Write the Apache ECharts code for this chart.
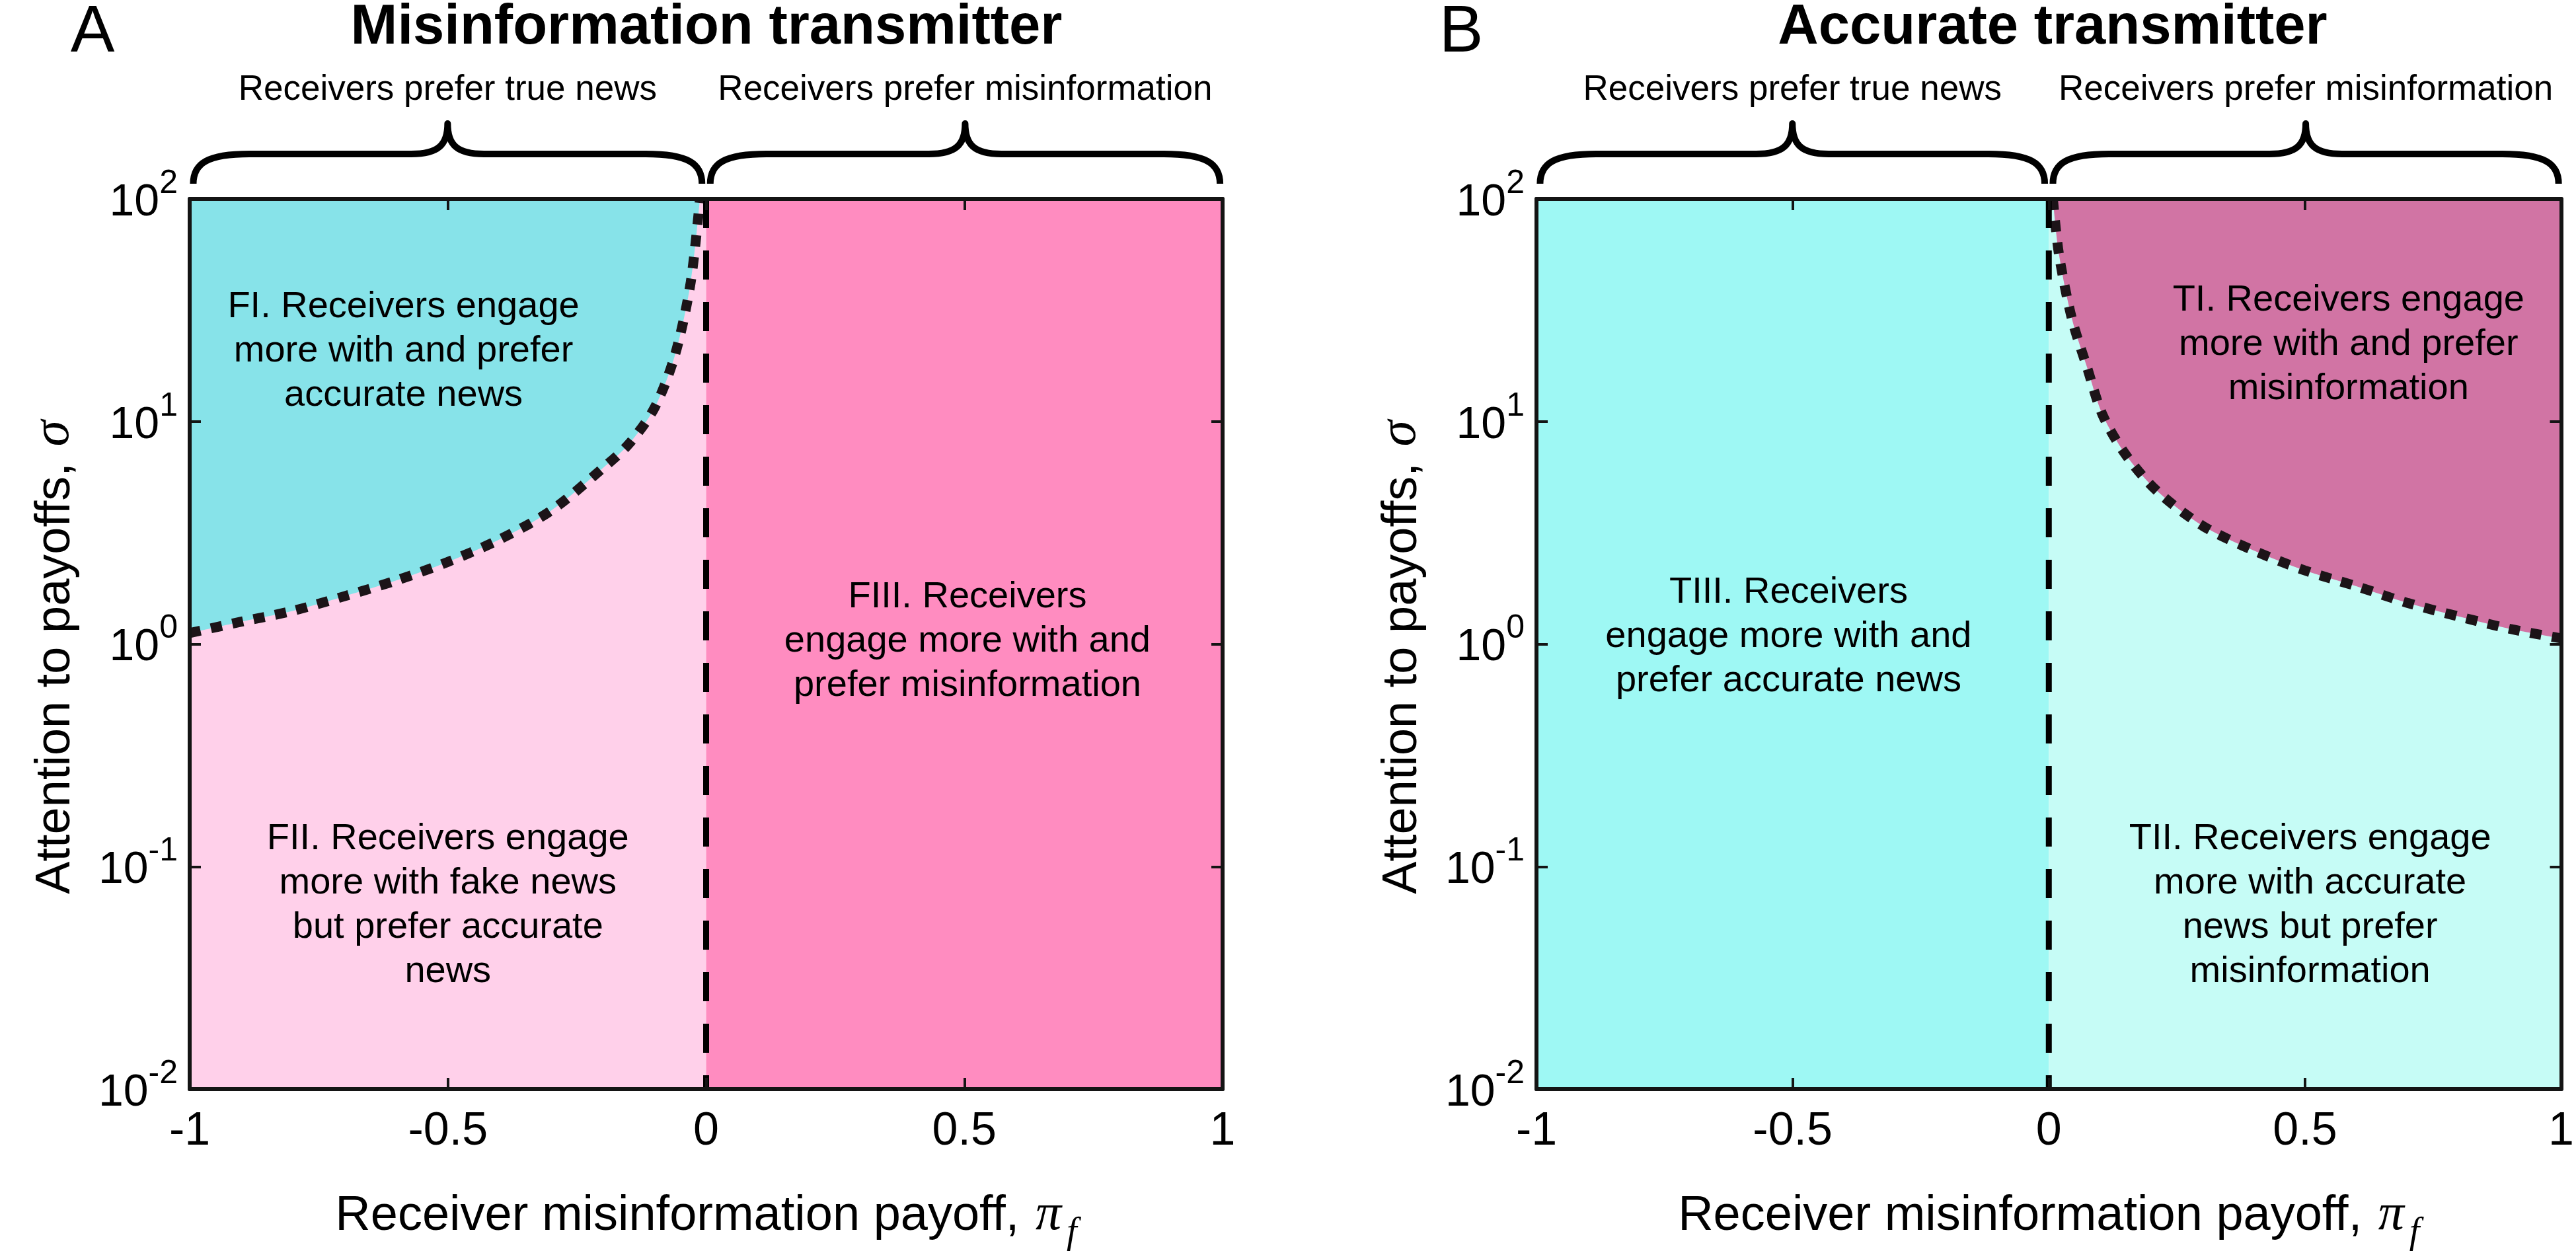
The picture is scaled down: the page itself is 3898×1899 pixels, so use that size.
<!DOCTYPE html>
<html>
<head>
<meta charset="utf-8">
<script src="https://cdn.jsdelivr.net/npm/echarts@6/dist/echarts.min.js"></script>
<style>html,body{margin:0;padding:0;background:#fff}#c{width:3898px;height:1899px}</style>
</head>
<body>
<div id="c"></div>
<script>
// ---------- data ----------
const xTickValues = [-1, -0.5, 0, 0.5, 1];
const xTickLabels = ['-1', '-0.5', '0', '0.5', '1'];
const yTickValues = [0.01, 0.1, 1, 10, 100];
const yTickExponents = ['-2', '-1', '0', '1', '2'];

const panelTitles = ['Misinformation transmitter', 'Accurate transmitter'];
const panelLetters = ['A', 'B'];
const braceLabels = ['Receivers prefer true news', 'Receivers prefer misinformation'];
const xAxisTitle = 'Receiver misinformation payoff, ';
const yAxisTitle = 'Attention to payoffs, ';

// boundary curve, panel A (misinformation transmitter)
const curveA_pi    = [-1.0, -0.9, -0.8, -0.7, -0.6, -0.5, -0.4, -0.3, -0.2, -0.15, -0.1, -0.06, -0.03, -0.012];
const curveA_sigma = [1.12, 1.26, 1.41, 1.64, 1.93, 2.34, 2.95, 3.98, 6.17, 7.9, 11.5, 20, 42, 100];
// boundary curve, panel B (accurate transmitter)
const curveB_pi    = [0.008, 0.02, 0.045, 0.075, 0.105, 0.15, 0.21, 0.3, 0.4, 0.5, 0.6, 0.7, 0.8, 0.9, 1.0];
const curveB_sigma = [100, 56, 29, 17.4, 10.7, 7.1, 4.9, 3.4, 2.63, 2.14, 1.82, 1.53, 1.33, 1.17, 1.06];

// region labels
const regionTextsA = [
  'FI. Receivers engage\nmore with and prefer\naccurate news',
  'FII. Receivers engage\nmore with fake news\nbut prefer accurate\nnews',
  'FIII. Receivers\nengage more with and\nprefer misinformation'
];
const regionPiA = [-0.586, -0.50, 0.506];
const regionSigmaA = [20.6, 0.0668, 1.03];
const regionTextsB = [
  'TI. Receivers engage\nmore with and prefer\nmisinformation',
  'TII. Receivers engage\nmore with accurate\nnews but prefer\nmisinformation',
  'TIII. Receivers\nengage more with and\nprefer accurate news'
];
const regionPiB = [0.585, 0.51, -0.508];
const regionSigmaB = [22.2, 0.067, 1.08];

const xMin = -1, xMax = 1, yMin = 0.01, yMax = 100;

// ---------- style ----------
const FONT = '"Liberation Sans", Arial, Helvetica, sans-serif';
const SERIF = '"Liberation Serif", "DejaVu Serif", serif';
const AX = '#141414';
const colA = { upperLeft: '#87E3E9', lowerLeft: '#FFD0EA', right: '#FF8CC0' };
const colB = { left: '#9EF8F4', upperRight: '#D174A4', lowerRight: '#C6FCF6' };

const grids = [
  { left: 287, top: 301, width: 1563, height: 1352 },
  { left: 2325, top: 301, width: 1562, height: 1352 }
];

function xAxes(g) {
  const common = {
    gridIndex: g, type: 'value', min: xMin, max: xMax, interval: 0.5, z: 10,
    splitLine: { show: false },
    axisLine: { show: true, onZero: false, lineStyle: { color: AX, width: 6 } },
    axisTick: { show: true, inside: true, length: 17, lineStyle: { color: AX, width: 4 } }
  };
  return [
    Object.assign({}, common, {
      position: 'bottom',
      axisLabel: {
        show: true, margin: 30, fontSize: 70, color: '#000', fontFamily: FONT,
        showMinLabel: true, showMaxLabel: true,
        formatter: v => { const i = xTickValues.findIndex(t => Math.abs(t - v) < 1e-9); return i >= 0 ? xTickLabels[i] : ''; }
      },
      name: '{t|' + xAxisTitle + '}{p|π}{s|f}',
      nameLocation: 'middle', nameGap: 152,
      nameTextStyle: {
        rich: {
          t: { fontSize: 74, fontFamily: FONT, color: '#000', padding: [0, 0, 16, 0], verticalAlign: 'bottom' },
          p: { fontSize: 78, fontFamily: SERIF, fontStyle: 'italic', color: '#000', padding: [0, 8, 16, 4], verticalAlign: 'bottom' },
          s: { fontSize: 56, fontFamily: SERIF, fontStyle: 'italic', color: '#000', verticalAlign: 'bottom' }
        }
      }
    }),
    Object.assign({}, common, { position: 'top', axisLabel: { show: false } })
  ];
}

function yAxes(g) {
  const common = {
    gridIndex: g, type: 'log', logBase: 10, min: yMin, max: yMax, z: 10,
    splitLine: { show: false }, minorTick: { show: false },
    axisLine: { show: true, onZero: false, lineStyle: { color: AX, width: 6 } },
    axisTick: { show: true, inside: true, length: 17, lineStyle: { color: AX, width: 4 } }
  };
  return [
    Object.assign({}, common, {
      position: 'left',
      axisLabel: {
        show: true, margin: 18, padding: [12, 0, 0, 0],
        showMinLabel: true, showMaxLabel: true,
        formatter: v => {
          const i = yTickValues.findIndex(t => Math.abs(Math.log10(t) - Math.log10(v)) < 1e-6);
          return i >= 0 ? '{b|10}{e|' + yTickExponents[i] + '}' : '';
        },
        rich: {
          b: { fontSize: 68, lineHeight: 68, fontFamily: FONT, color: '#000', verticalAlign: 'bottom' },
          e: { fontSize: 50, lineHeight: 50, fontFamily: FONT, color: '#000', padding: [0, 0, 38, 0], verticalAlign: 'bottom' }
        }
      },
      name: '{t|' + yAxisTitle + '}{s|σ}',
      nameLocation: 'middle', nameRotate: 90, nameGap: 165,
      nameTextStyle: {
        padding: [0, 40, 0, 0],
        rich: {
          t: { fontSize: 74, fontFamily: FONT, color: '#000', verticalAlign: 'bottom' },
          s: { fontSize: 80, fontFamily: SERIF, fontStyle: 'italic', color: '#000', verticalAlign: 'bottom', padding: [0, 0, 0, 4] }
        }
      }
    }),
    Object.assign({}, common, { position: 'right', axisLabel: { show: false } })
  ];
}

function fillRect(g, x0, x1, color) {
  return {
    type: 'line', xAxisIndex: 2 * g, yAxisIndex: 2 * g, silent: true, z: 1,
    symbol: 'none', data: [[x0, yMax], [x1, yMax]],
    lineStyle: { width: 0, opacity: 0 },
    areaStyle: { color: color, opacity: 1, origin: 'start' }
  };
}

function curve(g, pis, sigmas, color) {
  return {
    type: 'line', xAxisIndex: 2 * g, yAxisIndex: 2 * g, silent: true, z: 3,
    symbol: 'none', smooth: 0.3,
    data: pis.map((p, i) => [p, sigmas[i]]),
    lineStyle: { color: '#1c1418', width: 15, type: [17, 16], cap: 'butt' },
    areaStyle: { color: color, opacity: 1, origin: 'end' }
  };
}

function divider(g) {
  return {
    type: 'line', xAxisIndex: 2 * g, yAxisIndex: 2 * g, silent: true, z: 4,
    symbol: 'none', data: [[0, yMax], [0, yMin]],
    lineStyle: { color: '#000', width: 9, type: [44, 34], cap: 'butt' }
  };
}

function labels(g, pis, sigmas, texts) {
  return {
    type: 'custom', xAxisIndex: 2 * g, yAxisIndex: 2 * g, silent: true, z: 6, clip: false,
    data: pis.map((p, i) => [p, sigmas[i], i]),
    encode: { x: 0, y: 1 },
    renderItem: (params, api) => {
      const pt = api.coord([api.value(0), api.value(1)]);
      return {
        type: 'text', x: pt[0], y: pt[1],
        style: {
          text: texts[api.value(2)], fill: '#000', font: '56px ' + FONT,
          lineHeight: 67, align: 'center', verticalAlign: 'middle'
        }
      };
    }
  };
}

function braces(g) {
  return {
    type: 'custom', xAxisIndex: 2 * g, yAxisIndex: 2 * g, silent: true, z: 6, clip: false,
    data: [[-0.993, yMax, -0.008, 0], [0.008, yMax, 0.995, 1]],
    encode: { x: [0, 2], y: 1 },
    renderItem: (params, api) => {
      const p0 = api.coord([api.value(0), api.value(1)]);
      const p1 = api.coord([api.value(2), api.value(1)]);
      const idx = api.value(3);
      const top = p0[1];
      const yEnd = top - 23, yBar = top - 68, yTip = top - 114;
      const xa = p0[0], xb = p1[0], xm = (xa + xb) / 2;
      const d = `M${xa},${yEnd} C${xa},${yBar + 14} ${xa + 22},${yBar} ${xa + 85},${yBar} ` +
        `L${xm - 55},${yBar} C${xm - 14},${yBar} ${xm},${yBar - 14} ${xm},${yTip} ` +
        `C${xm},${yBar - 14} ${xm + 14},${yBar} ${xm + 55},${yBar} ` +
        `L${xb - 85},${yBar} C${xb - 22},${yBar} ${xb},${yBar + 14} ${xb},${yEnd}`;
      return {
        type: 'group',
        children: [
          { type: 'path', shape: { pathData: d }, style: { fill: null, stroke: '#000', lineWidth: 10, lineCap: 'butt', lineJoin: 'round' } },
          { type: 'text', x: xm, y: top - 165,
            style: { text: braceLabels[idx], fill: '#000', font: '53px ' + FONT, align: 'center', verticalAlign: 'middle' } }
        ]
      };
    }
  };
}

const chart = echarts.init(document.getElementById('c'), null, { renderer: 'canvas' });
chart.setOption({
  animation: false,
  backgroundColor: '#fff',
  grid: grids,
  xAxis: [].concat(xAxes(0), xAxes(1)),
  yAxis: [].concat(yAxes(0), yAxes(1)),
  graphic: [
    { type: 'text', x: 140, y: 50, style: { text: panelLetters[0], font: '100px ' + FONT, fill: '#000', align: 'center', verticalAlign: 'middle' } },
    { type: 'text', x: 1069, y: 43, style: { text: panelTitles[0], font: 'bold 85px ' + FONT, fill: '#000', align: 'center', verticalAlign: 'middle' } },
    { type: 'text', x: 2211, y: 50, style: { text: panelLetters[1], font: '100px ' + FONT, fill: '#000', align: 'center', verticalAlign: 'middle' } },
    { type: 'text', x: 3106, y: 43, style: { text: panelTitles[1], font: 'bold 85px ' + FONT, fill: '#000', align: 'center', verticalAlign: 'middle' } }
  ],
  series: [
    // Panel A
    fillRect(0, xMin, 0, colA.lowerLeft),
    fillRect(0, 0, xMax, colA.right),
    curve(0, curveA_pi, curveA_sigma, colA.upperLeft),
    divider(0),
    labels(0, regionPiA, regionSigmaA, regionTextsA),
    braces(0),
    // Panel B
    fillRect(1, xMin, 0, colB.left),
    fillRect(1, 0, xMax, colB.lowerRight),
    curve(1, curveB_pi, curveB_sigma, colB.upperRight),
    divider(1),
    labels(1, regionPiB, regionSigmaB, regionTextsB),
    braces(1)
  ]
});
</script>
</body>
</html>
